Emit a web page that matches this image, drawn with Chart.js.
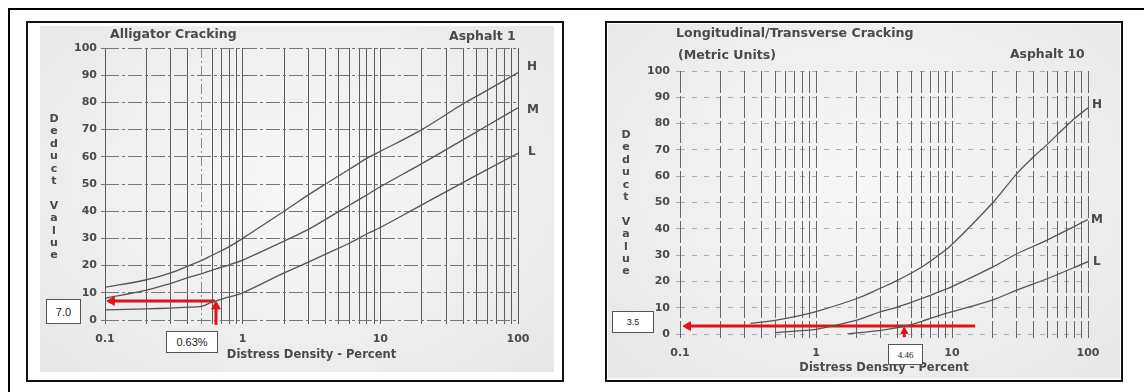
<!DOCTYPE html>
<html>
<head>
<meta charset="utf-8">
<script src="https://cdn.jsdelivr.net/npm/chart.js@4.4.1/dist/chart.umd.min.js"></script>
<style>
  body { margin: 0; background: #fff; }
  #page { position: relative; width: 1144px; height: 392px; overflow: hidden; font-family: 'DejaVu Sans', sans-serif; }
  .frame { position: absolute; left: 8px; top: 8px; width: 1200px; height: 420px; border-top: 2px solid #000; border-left: 2px solid #000; }
  .box { position: absolute; box-sizing: border-box; border: 2px solid #111; background: #fff; }
  .scan { position: absolute; background: radial-gradient(ellipse at 50% 45%, #f7f7f7 0%, #efefef 55%, #e6e6e6 100%); }
  canvas { position: absolute; }
  .txt { position: absolute; color: #4a4a4a; font-weight: bold; white-space: nowrap; line-height: 1; }
  .ylab { position: absolute; width: 14px; text-align: center; color: #4a4a4a; font-weight: bold; font-size: 11px; line-height: 12.4px; }
  .note { position: absolute; box-sizing: border-box; background: #fff; border: 1px solid #555; color: #222; display: flex; align-items: center; justify-content: center; }
</style>
</head>
<body>
<div id="page">
  <div class="frame"></div>

  <!-- left panel -->
  <div class="box" style="left:26px;top:21px;width:538px;height:361px;"></div>
  <div class="scan" style="left:40px;top:26px;width:514px;height:346px;"></div>
  <canvas id="alligator" width="538" height="361" style="left:26px;top:21px;"></canvas>
  <div class="txt" style="left:110px;top:28px;font-size:12.5px;">Alligator Cracking</div>
  <div class="txt" style="left:449px;top:30px;font-size:12.5px;">Asphalt 1</div>
  <div class="ylab" style="left:47px;top:113px;">D<br>e<br>d<br>u<br>c<br>t<br>&nbsp;<br>V<br>a<br>l<br>u<br>e</div>
  <div class="txt" style="left:527px;top:60px;font-size:12px;">H</div>
  <div class="txt" style="left:527px;top:103px;font-size:12px;">M</div>
  <div class="txt" style="left:528px;top:145px;font-size:12px;">L</div>
  <div class="note" style="left:46px;top:299px;width:35px;height:25px;font:11px 'Liberation Sans', sans-serif;">7.0</div>
  <div class="note" style="left:166px;top:331px;width:52px;height:22px;font:11px 'Liberation Sans', sans-serif;">0.63%</div>

  <!-- right panel -->
  <div class="box" style="left:605px;top:21px;width:518px;height:361px;"></div>
  <div class="scan" style="left:608px;top:24px;width:512px;height:354px;"></div>
  <canvas id="longitudinal" width="518" height="361" style="left:605px;top:21px;"></canvas>
  <div class="txt" style="left:676px;top:27px;font-size:12.6px;">Longitudinal/Transverse Cracking</div>
  <div class="txt" style="left:678px;top:49px;font-size:12.6px;">(Metric Units)</div>
  <div class="txt" style="left:1010px;top:48px;font-size:12.4px;">Asphalt 10</div>
  <div class="ylab" style="left:619px;top:129px;">D<br>e<br>d<br>u<br>c<br>t<br>&nbsp;<br>V<br>a<br>l<br>u<br>e</div>
  <div class="txt" style="left:1092px;top:98px;font-size:12px;">H</div>
  <div class="txt" style="left:1091px;top:213px;font-size:12px;">M</div>
  <div class="txt" style="left:1093px;top:255px;font-size:12px;">L</div>
  <div class="note" style="left:612px;top:311px;width:42px;height:22px;font:9px 'Liberation Sans', sans-serif;">3.5</div>
  <div class="note" style="left:888px;top:344px;width:35px;height:21px;font:9px 'Liberation Serif', serif;">4.46</div>
</div>

<script>
// shared axes
const densityTicks = [0.1, 0.2, 0.3, 0.4, 0.5, 0.6, 0.7, 0.8, 0.9,
                      1, 2, 3, 4, 5, 6, 7, 8, 9,
                      10, 20, 30, 40, 50, 60, 70, 80, 90, 100];
const densityLabels = [0.1, 1, 10, 100];

// Asphalt 1 - alligator cracking
const a1Density = [0.1, 0.2, 0.3, 0.4, 0.5, 0.6, 0.8, 1, 2, 3, 4, 6, 8, 10, 20, 40, 60, 100];
const a1High    = [12, 14.8, 17.3, 19.8, 21.8, 23.8, 27, 30, 40, 46, 50, 55.5, 59.5, 62, 70, 79.5, 84.5, 91];
const a1Medium  = [8, 11, 13.5, 15.6, 17, 18.3, 20.3, 22, 29, 33.3, 37, 42.3, 46, 49, 57.5, 66.3, 71.5, 78];
const a1Low     = [3.7, 4.1, 4.4, 4.7, 5, 6.6, 8.5, 10, 17.3, 21.3, 24.2, 28.3, 31.7, 34, 42.3, 50.6, 55.4, 61.3];
const a1ArrowLeftX = [0.63, 0.112];
const a1ArrowLeftY = [7, 7];
const a1ArrowUpX   = [0.64, 0.64];
const a1ArrowUpY   = [-1.8, 5];

// Asphalt 10 - longitudinal / transverse cracking
const a10HighDensity = [0.33, 0.5, 0.7, 1, 2, 3, 4, 6, 8, 10, 20, 30, 40, 50, 60, 80, 100];
const a10High        = [4, 5.2, 6.6, 8.5, 13.5, 17.5, 20.5, 25.5, 30, 34, 50, 61, 67.5, 72, 76, 82, 86];
const a10MediumDensity = [0.5, 0.7, 1, 2, 3, 4, 6, 8, 10, 20, 30, 50, 100];
const a10Medium        = [0.5, 1.1, 1.8, 5.3, 8.5, 10.3, 13.5, 16, 18, 25.5, 30.5, 35.7, 43.5];
const a10LowDensity = [1.7, 2, 3, 4, 5, 6, 8, 10, 20, 30, 50, 100];
const a10Low        = [0, 0.4, 1.4, 2.4, 3.6, 4.8, 7, 8.5, 13, 16.7, 21, 27.5];
const a10ArrowLeftX = [14.8, 0.1145];
const a10ArrowLeftY = [3, 3];
const a10ArrowUpX   = [4.46, 4.46];
const a10ArrowUpY   = [-1.2, 1];

const ink = '#4a4a4a';
const tickFont = { family: 'DejaVu Sans', size: 11, weight: 'bold' };
const titleFont = { family: 'DejaVu Sans', size: 11.5, weight: 'bold' };

function toPoints(xs, ys) {
    return xs.map((x, i) => ({ x: x, y: ys[i] }));
}

function curve(xs, ys) {
    return {
        data: toPoints(xs, ys),
        borderColor: '#555',
        borderWidth: 1.3,
        tension: 0.4,
        pointRadius: 0,
        fill: false
    };
}

function arrow(xs, ys, headSize, headRotation) {
    return {
        data: toPoints(xs, ys),
        borderColor: '#e01414',
        borderWidth: 3,
        pointStyle: 'triangle',
        pointRadius: [0, headSize],
        pointRotation: [0, headRotation],
        pointBackgroundColor: '#e01414',
        pointBorderColor: '#e01414',
        pointBorderWidth: 1,
        clip: false,
        fill: false
    };
}

function buildChart(id, cfg) {
    return new Chart(document.getElementById(id), {
        type: 'line',
        data: { datasets: cfg.datasets },
        options: {
            responsive: false,
            animation: false,
            events: [],
            layout: { padding: { left: 0, top: cfg.padTop, right: cfg.padRight, bottom: cfg.padBottom } },
            plugins: { legend: { display: false }, tooltip: { enabled: false } },
            scales: {
                x: {
                    type: 'logarithmic',
                    min: 0.1,
                    max: 100,
                    afterBuildTicks: (scale) => { scale.ticks = densityTicks.map(v => ({ value: v })); },
                    afterFit: (scale) => { scale.height = cfg.xHeight; },
                    ticks: {
                        autoSkip: false,
                        maxRotation: 0,
                        padding: 9,
                        color: ink,
                        font: tickFont,
                        callback: (v) => densityLabels.includes(v) ? String(v) : ''
                    },
                    grid: { color: cfg.vColor, lineWidth: 1, tickLength: 4 },
                    border: { display: false, dash: cfg.vDash },
                    title: { display: true, text: 'Distress Density - Percent', color: ink, font: titleFont, padding: 0 }
                },
                y: {
                    min: 0,
                    max: 100,
                    afterFit: (scale) => { scale.width = cfg.yWidth; },
                    ticks: { stepSize: 10, padding: cfg.yPad, color: ink, font: tickFont },
                    grid: { color: cfg.hColor, lineWidth: 1, tickLength: 4 },
                    border: { display: false, dash: cfg.hDash }
                }
            }
        }
    });
}

buildChart('alligator', {
    datasets: [
        curve(a1Density, a1High),
        curve(a1Density, a1Medium),
        curve(a1Density, a1Low),
        arrow(a1ArrowLeftX, a1ArrowLeftY, 5, -90),
        arrow(a1ArrowUpX, a1ArrowUpY, 5, 0)
    ],
    padTop: 27, padRight: 46, padBottom: 20, xHeight: 42, yWidth: 79, yPad: 4,
    vColor: (ctx) => ctx.tick && ctx.tick.value === 0.5 ? '#8a8a8a' : '#5c5c5c',
    vDash: (ctx) => ctx.tick && ctx.tick.value === 0.5 ? [10, 3, 2, 3] : [],
    hColor: '#777',
    hDash: [14, 3, 3, 3]
});

buildChart('longitudinal', {
    datasets: [
        curve(a10HighDensity, a10High),
        curve(a10MediumDensity, a10Medium),
        curve(a10LowDensity, a10Low),
        arrow(a10ArrowLeftX, a10ArrowLeftY, 5, -90),
        arrow(a10ArrowUpX, a10ArrowUpY, 4, 0)
    ],
    padTop: 50, padRight: 35, padBottom: 7, xHeight: 41, yWidth: 75, yPad: 6,
    vColor: '#666',
    vDash: [22, 3],
    hColor: 'rgba(90, 90, 90, 0.45)',
    hDash: [5, 7]
});
</script>
</body>
</html>
